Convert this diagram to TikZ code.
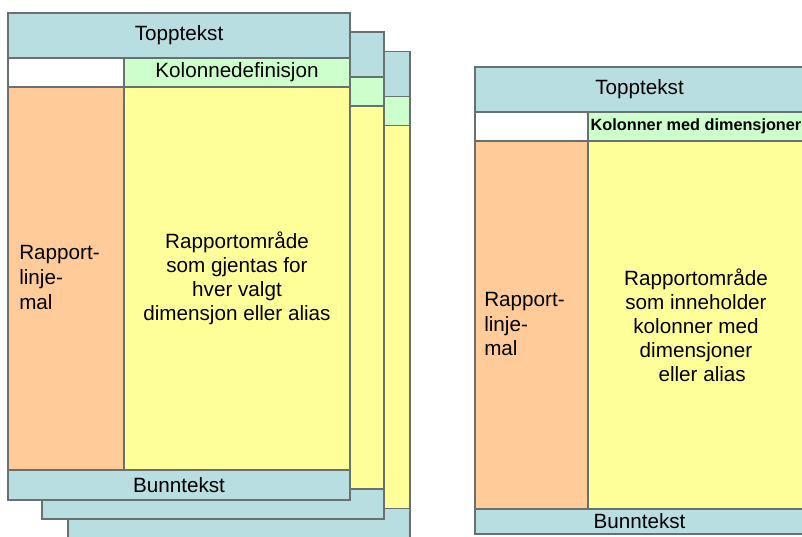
\documentclass[tikz,border=0pt]{standalone}
\usepackage{fontspec}
\setmainfont{Liberation Sans}
\usepackage{tikz}
\usetikzlibrary{positioning}

\definecolor{hdrblue}{RGB}{184,222,226}
\definecolor{kolgreen}{RGB}{204,255,204}
\definecolor{malorange}{RGB}{255,204,153}
\definecolor{omryellow}{RGB}{255,255,153}
\definecolor{kant}{RGB}{105,112,112}
\newcommand{\pw}[1]{#1*0.75pt}

\begin{document}
\begin{tikzpicture}[
  x=0.75pt, y=-0.75pt,
  cell/.style={draw=kant, line width=1.1pt, inner sep=0pt, outer sep=0pt, anchor=north west, font=\fontsize{15.5}{18}\selectfont},
  hdr/.style={cell, fill=hdrblue},
  kol/.style={cell, fill=kolgreen},
  blank/.style={cell, fill=white},
  mal/.style={cell, fill=malorange},
  omr/.style={cell, fill=omryellow, align=center},
  txt/.style={inner sep=0pt, align=left, font=\fontsize{15.5}{18.5}\selectfont}
]
\useasboundingbox (0,0) rectangle (802,536);
\clip (0,0) rectangle (802,536);

% stack of pages behind
\foreach \n/\x/\y in {3/68/51.5, 2/42/32} {
  \node[hdr, minimum width=\pw{342}, minimum height=\pw{45}] (topp\n) at (\x,\y) {};
  \node[blank, minimum width=\pw{116}, minimum height=\pw{29}] (tom\n) at (topp\n.south west) {};
  \node[kol, minimum width=\pw{226}, minimum height=\pw{29}] (kol\n) at (tom\n.north east) {};
  \node[mal, minimum width=\pw{116}, minimum height=\pw{383}] (mal\n) at (tom\n.south west) {};
  \node[omr, minimum width=\pw{226}, minimum height=\pw{383}] (omr\n) at (mal\n.north east) {};
  \node[hdr, minimum width=\pw{342}, minimum height=\pw{30}] (bunn\n) at (mal\n.south west) {};
}

% front page
\node[hdr, minimum width=\pw{342}, minimum height=\pw{45}] (topp1) at (8,13) {Topptekst};
\node[blank, minimum width=\pw{116}, minimum height=\pw{29}] (tom1) at (topp1.south west) {};
\node[kol, minimum width=\pw{226}, minimum height=\pw{29}] (kol1) at (tom1.north east) {Kolonnedefinisjon};
\node[mal, minimum width=\pw{116}, minimum height=\pw{383}] (mal1) at (tom1.south west) {};
\node[omr, minimum width=\pw{226}, minimum height=\pw{383}] (omr1) at (mal1.north east)
  {Rapportområde\\som gjentas for\\hver valgt\\dimensjon eller alias};
\node[hdr, minimum width=\pw{342}, minimum height=\pw{30}] (bunn1) at (mal1.south west) {Bunntekst};
\node[txt, anchor=west] (maltekst1) at ([xshift=\pw{11}, yshift=\pw{1}]mal1.west) {Rapport-\\linje-\\mal};

% single page
\node[hdr, minimum width=\pw{329}, minimum height=\pw{45}] (toppE) at (475,67) {Topptekst};
\node[blank, minimum width=\pw{113}, minimum height=\pw{29}] (tomE) at (toppE.south west) {};
\node[kol, minimum width=\pw{216}, minimum height=\pw{29}, font=\fontsize{12.2}{14}\selectfont\bfseries] (kolE) at (tomE.north east) {Kolonner med dimensjoner};
\node[mal, minimum width=\pw{113}, minimum height=\pw{368}] (malE) at (tomE.south west) {};
\node[omr, minimum width=\pw{216}, minimum height=\pw{368}] (omrE) at (malE.north east)
  {Rapportområde\\som inneholder\\kolonner med\\dimensjoner\\\hspace*{0.6em}eller alias};
\node[hdr, minimum width=\pw{329}, minimum height=\pw{25}] (bunnE) at (malE.south west) {Bunntekst};
\node[txt, anchor=west] (maltekstE) at ([xshift=\pw{9}, yshift=\pw{1}]malE.west) {Rapport-\\linje-\\mal};

\end{tikzpicture}
\end{document}
